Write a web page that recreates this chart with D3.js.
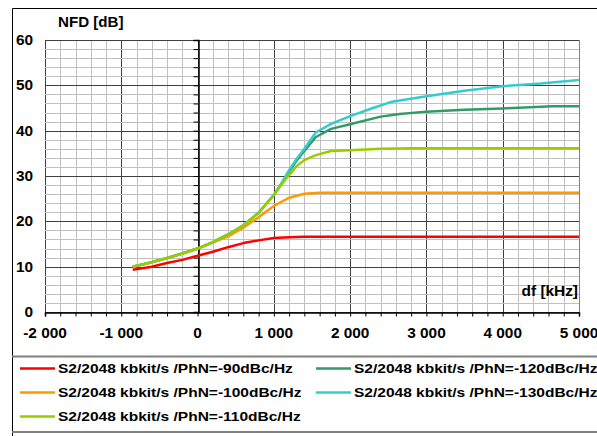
<!DOCTYPE html>
<html>
<head>
<meta charset="utf-8">
<script src="https://cdn.jsdelivr.net/npm/d3@7/dist/d3.min.js"></script>
<style>
  html, body { margin: 0; padding: 0; background: #fff; }
  svg { display: block; font-family: "Liberation Sans", Arial, sans-serif; font-weight: bold; }
</style>
</head>
<body>
<svg id="chart" width="597" height="436"></svg>
<script>
// Noise floor degradation vs. frequency offset, one curve per phase-noise level
const seriesNames = [
  "S2/2048 kbkit/s /PhN=-90dBc/Hz",
  "S2/2048 kbkit/s /PhN=-100dBc/Hz",
  "S2/2048 kbkit/s /PhN=-110dBc/Hz",
  "S2/2048 kbkit/s /PhN=-120dBc/Hz",
  "S2/2048 kbkit/s /PhN=-130dBc/Hz"
];
const seriesColors = ["#ff0000", "#ff9900", "#99cc00", "#339966", "#33cccc"];

// df [kHz] / NFD [dB]
const dfPhN90  = [-850, -600, -400, -200, 0, 200, 400, 600, 800, 1000, 1200, 1400, 1600, 2000, 3000, 4000, 5000];
const nfdPhN90 = [9.3, 10.0, 10.8, 11.5, 12.4, 13.3, 14.3, 15.2, 15.8, 16.3, 16.5, 16.6, 16.6, 16.6, 16.6, 16.6, 16.6];

const dfPhN100  = [-850, -600, -400, -200, 0, 200, 400, 600, 800, 1000, 1200, 1400, 1600, 2000, 3000, 4000, 5000];
const nfdPhN100 = [10.0, 10.9, 11.9, 12.9, 14.0, 15.3, 16.7, 18.6, 20.9, 23.4, 25.2, 26.1, 26.3, 26.3, 26.3, 26.3, 26.3];

const dfPhN110  = [-850, -600, -400, -200, 0, 200, 400, 600, 800, 1000, 1100, 1200, 1300, 1400, 1550, 1750, 2000, 2400, 2800, 3500, 4000, 5000];
const nfdPhN110 = [10.0, 11.0, 11.9, 12.9, 14.0, 15.4, 17.1, 19.1, 21.9, 25.8, 28.1, 30.2, 32.2, 33.5, 34.6, 35.5, 35.7, 36.0, 36.1, 36.1, 36.1, 36.1];

const dfPhN120  = [-850, -600, -400, -200, 0, 200, 400, 600, 800, 1000, 1100, 1200, 1300, 1400, 1550, 1750, 2000, 2400, 2650, 3000, 3500, 4000, 4650, 5000];
const nfdPhN120 = [10.0, 11.0, 11.9, 12.9, 14.0, 15.4, 17.1, 19.1, 21.9, 25.8, 28.3, 31.0, 33.4, 35.5, 38.6, 40.4, 41.4, 43.1, 43.7, 44.2, 44.6, 44.9, 45.4, 45.4];

const dfPhN130  = [-850, -600, -400, -200, 0, 200, 400, 600, 800, 1000, 1100, 1200, 1300, 1400, 1550, 1750, 2000, 2300, 2550, 3000, 3500, 4000, 4500, 5000];
const nfdPhN130 = [10.0, 11.0, 11.9, 12.9, 14.0, 15.4, 17.1, 19.1, 21.9, 25.8, 28.4, 31.3, 33.8, 36.0, 39.6, 41.5, 43.2, 45.0, 46.4, 47.6, 48.8, 49.8, 50.4, 51.2];

const xTickValues = [-2000, -1000, 0, 1000, 2000, 3000, 4000, 5000];
const yTickValues = [0, 10, 20, 30, 40, 50, 60];
const yTitle = "NFD [dB]";
const xTitle = "df [kHz]";

const allSeries = [
  { name: seriesNames[0], color: seriesColors[0], x: dfPhN90,  y: nfdPhN90 },
  { name: seriesNames[1], color: seriesColors[1], x: dfPhN100, y: nfdPhN100 },
  { name: seriesNames[2], color: seriesColors[2], x: dfPhN110, y: nfdPhN110 },
  { name: seriesNames[3], color: seriesColors[3], x: dfPhN120, y: nfdPhN120 },
  { name: seriesNames[4], color: seriesColors[4], x: dfPhN130, y: nfdPhN130 }
];

const svg = d3.select("#chart");
const W = 597, H = 436;

const x = d3.scaleLinear().domain([-2000, 5000]).range([45, 579]);
const y = d3.scaleLinear().domain([0, 60]).range([312, 40]);

// space as thousands separator, plain hyphen for negatives
const fmt = d3.formatLocale({ decimal: ",", thousands: " ", grouping: [3], currency: ["", ""], minus: "-" }).format(",d");

// text in a slightly wide face: glyphs are stretched horizontally around the anchor
function label(parent, px, py, str, size, stretch, anchor) {
  return parent.append("text")
    .attr("transform", `translate(${px},${py}) scale(${stretch},1)`)
    .attr("dy", "0.35em")
    .attr("text-anchor", anchor || "start")
    .attr("font-size", size)
    .text(str);
}

// outer frame
svg.append("path")
  .attr("d", `M12.5,${H} V8.5 H${W}`)
  .attr("fill", "none").attr("stroke", "#000").attr("stroke-width", 1);

// grid
const grid = svg.append("g");
const minorX = d3.range(-2000, 5001, 200);
const minorY = d3.range(0, 60.01, 2);
grid.selectAll(".mx").data(minorX).join("line")
  .attr("x1", d => Math.round(x(d)) + 0.5).attr("x2", d => Math.round(x(d)) + 0.5)
  .attr("y1", y(60)).attr("y2", y(0))
  .attr("stroke", d => d % 1000 === 0 ? "#404040" : "#c0c0c0").attr("stroke-width", 1);
grid.selectAll(".my").data(minorY).join("line")
  .attr("y1", d => Math.round(y(d)) + 0.5).attr("y2", d => Math.round(y(d)) + 0.5)
  .attr("x1", x(-2000)).attr("x2", x(5000))
  .attr("stroke", d => d % 10 === 0 ? "#404040" : "#c0c0c0").attr("stroke-width", 1);
// plot area right edge
grid.append("line")
  .attr("x1", Math.round(x(5000)) + 0.5).attr("x2", Math.round(x(5000)) + 0.5)
  .attr("y1", y(60)).attr("y2", y(0)).attr("stroke", "#808080");

// x axis along NFD = 0
const xAxis = d3.axisBottom(x).tickValues(minorX).tickSize(4).tickFormat("");
svg.append("g").attr("transform", `translate(0,${Math.round(y(0)) + 0.5})`).call(xAxis)
  .call(g => g.select(".domain").attr("stroke", "#000").attr("stroke-width", 1.5))
  .call(g => g.selectAll(".tick line").attr("stroke", "#000"));

// y axis along df = 0
const yAxis = d3.axisLeft(y).tickValues(minorY).tickSize(5).tickFormat("");
svg.append("g").attr("transform", `translate(${Math.round(x(0)) + 0.5},0)`).call(yAxis)
  .call(g => g.select(".domain").attr("stroke", "#000").attr("stroke-width", 1.5))
  .call(g => g.selectAll(".tick line").attr("stroke", "#000"));

// tick labels
const xLab = svg.append("g");
xTickValues.forEach(d => label(xLab, x(d), 333, fmt(d), 14, 1.1, "middle"));
const yLab = svg.append("g");
yTickValues.forEach(d => label(yLab, 33, y(d), d, 14, 1.1, "end"));

// axis titles
label(svg, 58, 22, yTitle, 14, 1.08, "start");
label(svg, 578, 291, xTitle, 14, 1.1, "end");

// curves (drawing order keeps the -110 curve on top where they overlap)
const line = d3.line().x(d => x(d[0])).y(d => y(d[1]));
const drawOrder = [0, 3, 1, 4, 2];
svg.append("g").selectAll("path").data(drawOrder.map(i => allSeries[i])).join("path")
  .attr("d", s => line(s.x.map((v, i) => [v, s.y[i]])))
  .attr("fill", "none").attr("stroke", s => s.color)
  .attr("stroke-width", 2.5).attr("stroke-linejoin", "round");

// legend
const legend = svg.append("g");
legend.append("line").attr("x1", 12).attr("x2", W).attr("y1", 356.5).attr("y2", 356.5)
  .attr("stroke", "#808080").attr("stroke-width", 2);
legend.append("line").attr("x1", 12).attr("x2", W).attr("y1", 432).attr("y2", 432)
  .attr("stroke", "#808080").attr("stroke-width", 2);
const legendPos = [[20, 368.5], [20, 392.5], [20, 416.5], [316, 368.5], [316, 392.5]];
allSeries.forEach((s, i) => {
  const g = legend.append("g").attr("transform", `translate(${legendPos[i][0]},${legendPos[i][1]})`);
  g.append("line").attr("x1", 0).attr("x2", 35).attr("y1", 0).attr("y2", 0)
    .attr("stroke", s.color).attr("stroke-width", 2.5);
  label(g, 38, 0, s.name, 13.5, 1.15, "start");
});
</script>
</body>
</html>
